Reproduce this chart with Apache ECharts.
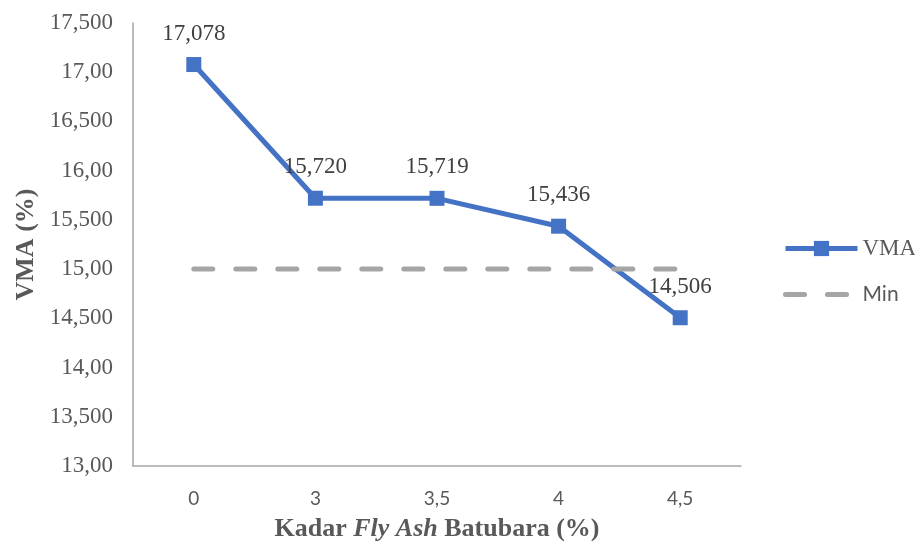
<!DOCTYPE html>
<html>
<head>
<meta charset="utf-8">
<script src="https://cdn.jsdelivr.net/npm/echarts@6/dist/echarts.min.js"></script>
<style>
  html, body { margin: 0; padding: 0; background: #fff; }
  #chart { width: 915px; height: 541px; }
</style>
</head>
<body>
<div id="chart"></div>
<script>
const categories = ['0', '3', '3,5', '4', '4,5']
const vmaValues = [17.078, 15.720, 15.719, 15.436, 14.506]
const minValues = [15, 15, 15, 15, 15]
// tick labels as printed in the source (Excel mixed formats)
const yTickLabels = {
  13: '13,00', 13.5: '13,500', 14: '14,00', 14.5: '14,500', 15: '15,00',
  15.5: '15,500', 16: '16,00', 16.5: '16,500', 17: '17,00', 17.5: '17,500'
}

const serif = '"Liberation Serif", "Times New Roman", serif'
const sans = 'Lato, "Noto Sans", sans-serif'

const myChart = echarts.init(document.getElementById('chart'))
myChart.setOption({
  animation: false,
  backgroundColor: '#fff',
  grid: { left: 133, right: 174, top: 23, bottom: 75, containLabel: false, outerBoundsMode: 'none' },
  legend: {
    orient: 'vertical',
    left: 783,
    top: 237,
    padding: 0,
    itemWidth: 72,
    itemHeight: 19,
    itemGap: 24,
    lineStyle: { width: 5 },
    data: [
      { name: 'VMA', lineStyle: { width: 5 } },
      { name: 'Min', itemStyle: { opacity: 0 }, lineStyle: { width: 5, type: [19, 23], cap: 'round' } }
    ],
    formatter: name => name === 'VMA' ? '{s|VMA}' : '{n|Min}',
    textStyle: {
      rich: {
        s: { fontFamily: serif, fontSize: 23, color: '#595959' },
        n: { fontFamily: sans, fontSize: 21, color: '#595959' }
      }
    }
  },
  xAxis: {
    type: 'category',
    data: categories,
    boundaryGap: true,
    axisLine: { lineStyle: { color: '#a6a6a6', width: 1.5 } },
    axisTick: { show: false },
    axisLabel: { fontFamily: sans, fontSize: 19, color: '#595959', margin: 23 },
    name: '{b|Kadar }{i|Fly Ash}{b| Batubara (%)}',
    nameLocation: 'middle',
    nameGap: 50,
    nameTextStyle: {
      rich: {
        b: { fontFamily: serif, fontSize: 26, fontWeight: 'bold', color: '#595959' },
        i: { fontFamily: serif, fontSize: 26, fontWeight: 'bold', fontStyle: 'italic', color: '#595959' }
      }
    }
  },
  yAxis: {
    type: 'value',
    min: 13,
    max: 17.5,
    interval: 0.5,
    axisLine: { show: true, lineStyle: { color: '#a6a6a6', width: 1.5 } },
    axisTick: { show: false },
    splitLine: { show: false },
    axisLabel: {
      fontFamily: serif, fontSize: 23, color: '#595959', margin: 20,
      formatter: v => yTickLabels[v] || String(v).replace('.', ',')
    },
    name: 'VMA (%)',
    nameLocation: 'middle',
    nameGap: 93,
    nameTextStyle: { fontFamily: serif, fontSize: 26, fontWeight: 'bold', color: '#595959' }
  },
  series: [
    {
      name: 'VMA',
      type: 'line',
      data: vmaValues,
      symbol: 'rect',
      symbolSize: 15,
      itemStyle: { color: '#4472c4' },
      lineStyle: { color: '#4472c4', width: 5 },
      label: {
        show: true,
        position: 'top',
        distance: 12,
        fontFamily: serif,
        fontSize: 23,
        color: '#404040',
        formatter: p => p.value.toFixed(3).replace('.', ',')
      },
      z: 2
    },
    {
      name: 'Min',
      type: 'line',
      data: minValues,
      symbol: 'none',
      lineStyle: { color: '#a5a5a5', width: 5, type: [19, 23], cap: 'round' },
      itemStyle: { color: '#a5a5a5' },
      z: 3
    }
  ]
})
</script>
</body>
</html>
